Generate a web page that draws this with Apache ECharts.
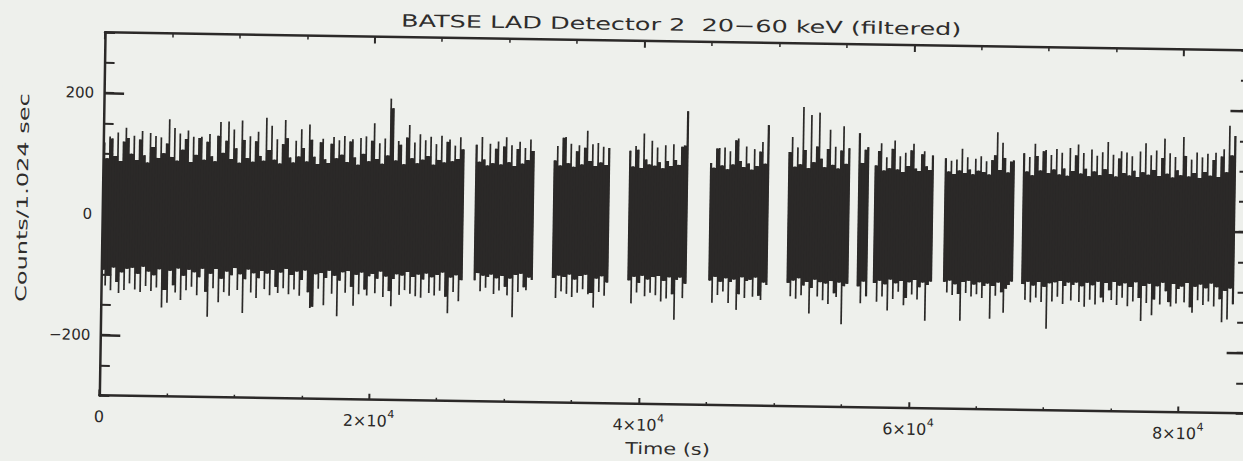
<!DOCTYPE html>
<html>
<head>
<meta charset="utf-8">
<title>BATSE LAD Detector 2 20-60 keV (filtered)</title>
<script src="https://cdn.jsdelivr.net/npm/echarts@6/dist/echarts.min.js"></script>
<style>
  html, body { margin: 0; padding: 0; background: #eef0ec; overflow: hidden; width: 1243px; height: 461px; }
  #chart { width: 1252px; height: 461px; transform: rotate(0.9deg); transform-origin: 621.5px 230.5px; }
</style>
</head>
<body>
<div id="chart"></div>
<script>
// Filtered LAD count rate, reduced to min/max envelopes of 200 s bins.
// Each orbit window has its own start time and arrays of bin maxima/minima.
const binWidth = 200; // seconds per envelope bin

const windowStart = [0, 27600, 33400, 39000, 45000, 50800, 56000, 57200, 62400, 68200];

const high1 = [
  118, 92, 128, 125, 96, 135, 88, 120, 143, 126,
  100, 130, 90, 124, 138, 98, 86, 135, 112, 130,
  94, 128, 102, 118, 158, 96, 144, 90, 135, 108,
  126, 140, 88, 130, 100, 128, 130, 92, 122, 135,
  98, 90, 132, 155, 104, 124, 156, 94, 143, 112,
  88, 158, 126, 96, 132, 90, 124, 140, 100, 92,
  163, 110, 150, 94, 128, 88, 120, 160, 130, 98,
  90, 126, 100, 145, 114, 92, 153, 128, 100, 88,
  124, 130, 96, 90, 122, 133, 98, 128, 104, 135,
  92, 126, 130, 100, 88, 132, 106, 135, 94, 128,
  157, 98, 124, 90, 132, 104, 198, 182, 96, 128,
  122, 90, 134, 155, 100, 126, 92, 140, 98, 130,
  104, 136, 90, 124, 98, 138, 94, 128, 132, 96,
  122, 100, 136, 116
];
const low1 = [
  -92, -118, -100, -126, -88, -112, -130, -96, -125, -90,
  -114, -88, -124, -98, -128, -86, -118, -94, -126, -100,
  -120, -90, -153, -124, -145, -92, -116, -128, -88, -140,
  -100, -124, -90, -118, -94, -132, -102, -88, -126, -167,
  -96, -120, -88, -143, -104, -126, -92, -132, -98, -86,
  -122, -96, -160, -104, -88, -126, -94, -135, -102, -90,
  -120, -94, -130, -88, -116, -126, -92, -118, -86, -128,
  -96, -120, -90, -130, -104, -88, -124, -150, -148, -94,
  -118, -92, -145, -100, -88, -126, -96, -163, -104, -90,
  -124, -88, -114, -145, -94, -126, -90, -118, -128, -96,
  -92, -124, -100, -88, -130, -96, -120, -145, -100, -92,
  -126, -94, -118, -88, -124, -96, -128, -92, -130, -100,
  -90, -122, -96, -126, -92, -118, -88, -128, -155, -96,
  -120, -92, -135, -100
];
const high2 = [124, 96, 137, 100, 90, 126, 94, 118, 130, 92, 122, 137, 96, 124, 90, 118, 130, 94, 120, 100, 134, 115];
const low2 = [-100, -88, -118, -92, -112, -94, -90, -122, -96, -116, -92, -110, -124, -96, -160, -90, -118, -88, -110, -115, -94, -98];
const high3 = [100, 124, 92, 138, 139, 96, 128, 90, 116, 126, 94, 122, 150, 100, 128, 92, 130, 98, 124, 94, 122];
const low3 = [-94, -127, -90, -116, -92, -120, -88, -125, -96, -118, -90, -112, -88, -120, -118, -142, -94, -116, -90, -122, -100];
const high4 = [118, 92, 126, 120, 90, 147, 104, 96, 135, 94, 124, 100, 90, 128, 102, 94, 130, 104, 96, 126, 128, 185];
const low4 = [-96, -134, -90, -116, -100, -88, -122, -94, -116, -90, -120, -88, -130, -96, -125, -90, -118, -160, -94, -90, -124, -100];
const high5 = [100, 92, 124, 125, 96, 126, 90, 120, 98, 138, 141, 104, 94, 128, 100, 90, 124, 96, 120, 136, 100, 164];
const low5 = [-94, -131, -88, -118, -96, -112, -90, -131, -96, -92, -142, -116, -88, -122, -94, -92, -120, -88, -118, -125, -96, -100];
const high6 = [120, 145, 96, 128, 100, 195, 124, 94, 182, 104, 130, 186, 110, 96, 126, 158, 100, 130, 94, 124, 164, 102, 128];
const low6 = [-96, -118, -92, -122, -88, -116, -100, -94, -146, -104, -90, -118, -94, -124, -96, -130, -92, -112, -118, -94, -163, -100, -96];
const high7 = [153, 104, 126, 130];
const low7 = [-100, -128, -92, -116];
const high8 = [100, 124, 137, 92, 114, 96, 128, 142, 94, 116, 90, 122, 100, 126, 137, 96, 92, 120, 125, 100, 94, 118];
const low8 = [-94, -125, -90, -116, -96, -139, -88, -120, -94, -108, -90, -130, -118, -92, -112, -88, -120, -100, -92, -155, -96, -90];
const high9 = [114, 92, 110, 88, 112, 94, 130, 90, 116, 96, 88, 114, 94, 118, 92, 110, 88, 112, 120, 158, 96, 141, 116, 92, 110, 112];
const low9 = [-90, -108, -88, -112, -94, -110, -154, -90, -108, -88, -114, -94, -110, -90, -116, -96, -92, -150, -96, -112, -90, -106, -140, -100, -94, -88];
const high10 = [
  124, 94, 118, 88, 140, 120, 96, 128, 130, 92,
  122, 98, 132, 90, 126, 100, 88, 134, 96, 122,
  140, 92, 126, 100, 88, 132, 96, 122, 90, 128,
  100, 145, 92, 124, 88, 118, 130, 94, 128, 90,
  122, 98, 88, 130, 96, 144, 92, 124, 100, 132,
  90, 120, 152, 94, 128, 88, 122, 100, 92, 155,
  124, 90, 118, 96, 130, 88, 122, 98, 128, 92,
  118, 130, 90, 124, 136, 98, 175, 126, 158
];
const low10 = [
  -92, -118, -88, -122, -94, -114, -88, -121, -96, -165,
  -90, -120, -88, -112, -86, -124, -94, -88, -118, -92,
  -88, -120, -94, -128, -88, -116, -92, -124, -86, -112,
  -120, -88, -100, -116, -86, -124, -92, -112, -88, -126,
  -94, -118, -86, -112, -150, -92, -120, -88, -140, -114,
  -92, -122, -86, -100, -118, -125, -88, -120, -96, -92,
  -118, -86, -126, -135, -92, -114, -88, -122, -94, -116,
  -86, -124, -92, -112, -150, -98, -145, -94, -120
];

const windowHighs = [high1, high2, high3, high4, high5, high6, high7, high8, high9, high10];
const windowLows = [low1, low2, low3, low4, low5, low6, low7, low8, low9, low10];

const yMajorTicks = [-200, 0, 200];

// Flatten windows into [binStart, min, max] records
const bins = [];
windowStart.forEach((t0, w) => {
  windowHighs[w].forEach((hi, k) => {
    bins.push([t0 + k * binWidth, windowLows[w][k], hi]);
  });
});

const ink = '#2b2928';
const font = 'DejaVu Sans';
const spikeWidth = 1.7;

const chart = echarts.init(document.getElementById('chart'), null, { renderer: 'svg' });

// Tick labels are written as mantissa "n×10" on the main bottom axis and the
// exponent on an overlaid bottom axis, raised and offset to the right.
function mantissaLabel(v) {
  if (v === 0) return '{z|0}';
  return '{m|' + (v / 10000) + '×10}';
}
function exponentLabel(v) {
  return v === 0 ? '' : '{e|4}';
}

// One envelope bin: a thin spike over its full range, plus a fill joining it
// to the neighbouring bin over the range both bins share.
function renderBin(params, api) {
  const i = params.dataIndex;
  const t = api.value(0);
  const lo = api.value(1);
  const hi = api.value(2);
  const children = [];
  const c = api.coord([t + binWidth / 2, hi]);
  const cLo = api.coord([t + binWidth / 2, lo]);
  children.push({
    type: 'rect',
    shape: { x: c[0] - spikeWidth / 2, y: c[1], width: spikeWidth, height: cLo[1] - c[1] },
    style: { fill: ink }
  });
  const prev = bins[i - 1];
  const next = bins[i + 1];
  if (!prev || prev[0] + binWidth !== t) {
    // leading edge of an orbit window
    const a = api.coord([t, hi]);
    const b = api.coord([t + binWidth / 2, lo]);
    children.push({
      type: 'rect',
      shape: { x: a[0], y: a[1], width: b[0] - a[0] + 0.5, height: b[1] - a[1] },
      style: { fill: ink }
    });
  }
  if (next && next[0] === t + binWidth) {
    const a = api.coord([t + binWidth / 2, Math.min(hi, next[2])]);
    const b = api.coord([t + binWidth * 1.5, Math.max(lo, next[1])]);
    children.push({
      type: 'rect',
      shape: { x: a[0] - 0.4, y: a[1], width: b[0] - a[0] + 0.8, height: b[1] - a[1] },
      style: { fill: ink }
    });
  } else {
    // trailing edge of an orbit window
    const a = api.coord([t + binWidth / 2, hi]);
    const b = api.coord([t + binWidth, lo]);
    children.push({
      type: 'rect',
      shape: { x: a[0] - 0.5, y: a[1], width: b[0] - a[0] + 0.5, height: b[1] - a[1] },
      style: { fill: ink }
    });
  }
  return { type: 'group', children: children };
}

const xCommon = {
  type: 'value', min: 0, max: 85000, interval: 20000,
  axisLine: { show: true, onZero: false, lineStyle: { color: ink, width: 2.5 } },
  splitLine: { show: false },
  minorSplitLine: { show: false }
};

const yCommon = {
  type: 'value', min: -300, max: 300,
  splitLine: { show: false },
  axisLabel: { show: false }
};

chart.setOption({
  animation: false,
  backgroundColor: '#eef0ec',
  grid: { left: 102, top: 40.5, right: 3.5, bottom: 57.3, containLabel: false, outerBoundsMode: 'none' },
  xAxis: [
    Object.assign({}, xCommon, {
      position: 'bottom',
      axisTick: { inside: true, length: 6, lineStyle: { color: ink, width: 2 } },
      minorTick: { show: true, splitNumber: 4, length: 3, lineStyle: { color: ink, width: 1.5 } },
      axisLabel: {
        margin: 13, showMaxLabel: false, formatter: mantissaLabel,
        fontFamily: font, fontSize: 16, color: ink,
        rich: {
          z: { fontFamily: font, fontSize: 16, color: ink },
          m: { fontFamily: font, fontSize: 16, color: ink, padding: [0, 8, 0, 0] }
        }
      }
    }),
    Object.assign({}, xCommon, {
      position: 'top',
      axisTick: { inside: true, length: 7, lineStyle: { color: ink, width: 2 } },
      minorTick: { show: true, splitNumber: 4, length: 4, lineStyle: { color: ink, width: 1.5 } },
      axisLabel: { show: false }
    }),
    Object.assign({}, xCommon, {
      position: 'bottom',
      axisLine: { show: false, onZero: false },
      axisTick: { show: false },
      axisLabel: {
        margin: 9, showMaxLabel: false, formatter: exponentLabel,
        fontFamily: font, fontSize: 11, color: ink,
        rich: { e: { fontFamily: font, fontSize: 11, color: ink, padding: [0, 0, 0, 44] } }
      }
    })
  ],
  yAxis: [
    Object.assign({}, yCommon, {
      position: 'left',
      axisLine: { show: true, onZero: false, lineStyle: { color: ink, width: 2.5 } },
      axisTick: { inside: true, length: 20, customValues: yMajorTicks, lineStyle: { color: ink, width: 2.5 } },
      axisLabel: {
        show: true, customValues: yMajorTicks, margin: 10,
        fontFamily: font, fontSize: 15, color: ink,
        formatter: v => (v < 0 ? '\u2212' + Math.abs(v) : String(v))
      }
    }),
    Object.assign({}, yCommon, {
      position: 'left', interval: 50,
      axisLine: { show: false, onZero: false },
      axisTick: { inside: true, length: 10, lineStyle: { color: ink, width: 2 } }
    }),
    Object.assign({}, yCommon, {
      position: 'right',
      axisLine: { show: true, onZero: false, lineStyle: { color: ink, width: 2.5 } },
      axisTick: { inside: true, length: 20, customValues: yMajorTicks, lineStyle: { color: ink, width: 2.5 } }
    }),
    Object.assign({}, yCommon, {
      position: 'right', interval: 50,
      axisLine: { show: false, onZero: false },
      axisTick: { inside: true, length: 10, lineStyle: { color: ink, width: 2 } }
    })
  ],
  graphic: [
    {
      type: 'text', x: 678, y: 24, scaleX: 1.5, silent: true,
      style: {
        text: 'BATSE LAD Detector 2  20\u221260 keV (filtered)',
        font: '17px "DejaVu Sans"', fill: '#2f2d2c',
        textAlign: 'center', textVerticalAlign: 'middle'
      }
    },
    {
      type: 'text', x: 671, y: 448, scaleX: 1.3, silent: true,
      style: {
        text: 'Time (s)', font: '16px "DejaVu Sans"', fill: '#2f2d2c',
        textAlign: 'center', textVerticalAlign: 'middle'
      }
    },
    {
      type: 'text', x: 22, y: 207, rotation: Math.PI / 2, scaleX: 1.6, silent: true,
      style: {
        text: 'Counts/1.024 sec', font: '15px "DejaVu Sans"', fill: '#2f2d2c',
        textAlign: 'center', textVerticalAlign: 'middle'
      }
    }
  ],
  series: [
    {
      type: 'custom',
      xAxisIndex: 0,
      yAxisIndex: 0,
      silent: true,
      clip: true,
      data: bins,
      encode: { x: 0, y: [1, 2] },
      renderItem: renderBin
    }
  ]
});
</script>
</body>
</html>
